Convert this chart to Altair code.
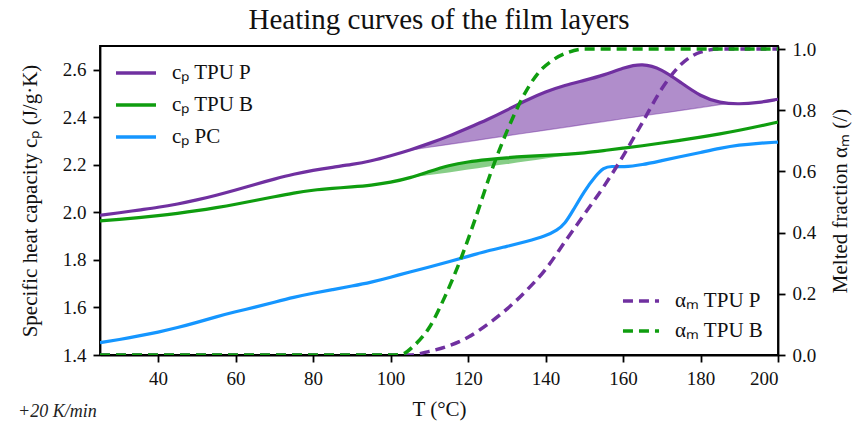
import altair as alt
import pandas as pd

# ---------------- data ----------------
cp_names = ["cₚ TPU P", "cₚ TPU B", "cₚ PC"]
cp_colors = ["#7030a0", "#0f9d0f", "#1596ff"]
alpha_names = ["αₘ TPU P", "αₘ TPU B"]
alpha_colors = ["#7030a0", "#0f9d0f"]

T_main = [25, 30, 35, 40, 45, 50, 55, 60, 65, 70, 75, 80, 85, 90, 95, 100,
          105, 110, 115, 120, 125, 130, 135, 140, 145, 150, 155, 160, 165,
          170, 175, 180, 185, 190, 195, 200]
cp_tpu_p = [1.988, 1.998, 2.010, 2.021, 2.035, 2.052, 2.072, 2.094, 2.118, 2.140,
            2.161, 2.177, 2.190, 2.201, 2.216, 2.238, 2.262, 2.290, 2.320, 2.355,
            2.390, 2.430, 2.472, 2.508, 2.535, 2.555, 2.577, 2.608, 2.628, 2.603,
            2.545, 2.488, 2.460, 2.455, 2.462, 2.476]
cp_tpu_b = [1.964, 1.970, 1.978, 1.986, 1.996, 2.007, 2.020, 2.034, 2.050, 2.066,
            2.082, 2.094, 2.101, 2.107, 2.114, 2.126, 2.145, 2.172, 2.198, 2.213,
            2.222, 2.230, 2.236, 2.240, 2.244, 2.250, 2.260, 2.270, 2.280, 2.292,
            2.304, 2.316, 2.330, 2.345, 2.362, 2.380]

T_pc = [25, 30, 35, 40, 45, 50, 55, 60, 65, 70, 75, 80, 85, 90, 95, 100, 105,
        110, 115, 120, 125, 130, 135, 140, 143, 145, 147, 150, 153, 155, 157,
        160, 165, 170, 175, 180, 185, 190, 195, 200]
cp_pc = [1.452, 1.465, 1.480, 1.496, 1.515, 1.537, 1.561, 1.582, 1.601, 1.622,
         1.643, 1.660, 1.675, 1.690, 1.706, 1.727, 1.750, 1.770, 1.792, 1.815,
         1.838, 1.857, 1.877, 1.900, 1.925, 1.952, 2.005, 2.090, 2.155, 2.188,
         2.195, 2.190, 2.200, 2.218, 2.235, 2.252, 2.270, 2.284, 2.291, 2.296]

# melting peak areas (upper = curve, lower = straight baseline)
T_fill_p = [105, 110, 115, 120, 125, 130, 135, 140, 145, 150, 155, 160, 165,
            170, 175, 180, 185, 188]
upper_p = [2.262, 2.290, 2.320, 2.355, 2.390, 2.430, 2.472, 2.508, 2.535, 2.555,
           2.577, 2.608, 2.628, 2.603, 2.545, 2.488, 2.460, 2.458]
lower_p = [2.262, 2.274, 2.286, 2.298, 2.310, 2.322, 2.334, 2.346, 2.358, 2.370,
           2.382, 2.394, 2.406, 2.417, 2.429, 2.441, 2.453, 2.458]
T_fill_b = [105, 110, 115, 120, 125, 130, 135, 140, 145, 150]
upper_b = [2.145, 2.172, 2.198, 2.213, 2.222, 2.230, 2.236, 2.240, 2.244, 2.250]
lower_b = [2.145, 2.157, 2.168, 2.180, 2.192, 2.203, 2.215, 2.227, 2.238, 2.250]

T_alpha_p = [25, 105, 110, 115, 120, 125, 130, 135, 140, 145, 150, 155, 160,
             165, 170, 175, 180, 185, 200]
alpha_p = [0, 0, 0.012, 0.03, 0.058, 0.10, 0.15, 0.21, 0.28, 0.37, 0.46, 0.55,
           0.65, 0.76, 0.87, 0.95, 0.99, 1.0, 1.0]
T_alpha_b = [25, 100, 103, 106, 110, 114, 118, 122, 126, 130, 134, 138, 142,
             146, 150, 200]
alpha_b = [0, 0, 0.003, 0.03, 0.09, 0.19, 0.31, 0.45, 0.60, 0.73, 0.84, 0.92,
           0.965, 0.99, 1.0, 1.0]

x_ticks = [40, 60, 80, 100, 120, 140, 160, 180, 200]
y_left_ticks = [1.4, 1.6, 1.8, 2.0, 2.2, 2.4, 2.6]
y_right_ticks = [0.0, 0.2, 0.4, 0.6, 0.8, 1.0]

# ---------------- tables ----------------
cp_df = pd.concat([
    pd.DataFrame({"T": T_main, "v": cp_tpu_p, "series": cp_names[0], "o": 0}),
    pd.DataFrame({"T": T_main, "v": cp_tpu_b, "series": cp_names[1], "o": 1}),
    pd.DataFrame({"T": T_pc, "v": cp_pc, "series": cp_names[2], "o": 2}),
])
alpha_df = pd.concat([
    pd.DataFrame({"T": T_alpha_p, "a": alpha_p, "series": alpha_names[0]}),
    pd.DataFrame({"T": T_alpha_b, "a": alpha_b, "series": alpha_names[1]}),
])
fill_p = pd.DataFrame({"T": T_fill_p, "v": upper_p, "base": lower_p})
fill_b = pd.DataFrame({"T": T_fill_b, "v": upper_b, "base": lower_b})

FONT = "Liberation Serif"

x_enc = alt.X("T:Q", scale=alt.Scale(domain=[25, 200], nice=False, zero=False),
              axis=alt.Axis(values=x_ticks, title="T (°C)", format="d"))
y_left_scale = alt.Scale(domain=[1.4, 2.7], nice=False, zero=False)
y_left_axis = alt.Axis(values=y_left_ticks, format=".1f",
                       title="Specific heat capacity cₚ (J/g·K)", titlePadding=22)

def yleft(field):
    return alt.Y(field, scale=y_left_scale, axis=y_left_axis)

area_p = alt.Chart(fill_p).mark_area(color="#7030a0", opacity=0.55,
                                     interpolate="basis", clip=True).encode(
    x=x_enc, y=yleft("v:Q"), y2="base:Q")
edge_p = alt.Chart(fill_p).mark_line(color="#7030a0", opacity=0.45, strokeWidth=1.2,
                                     clip=True).encode(x=x_enc, y=yleft("base:Q"))
area_b = alt.Chart(fill_b).mark_area(color="#0f9d0f", opacity=0.5,
                                     interpolate="basis", clip=True).encode(
    x=x_enc, y=yleft("v:Q"), y2="base:Q")

cp_lines = alt.Chart(cp_df).mark_line(strokeWidth=3.2, interpolate="basis",
                                      clip=True).encode(
    x=x_enc, y=yleft("v:Q"),
    color=alt.Color("series:N",
                    scale=alt.Scale(domain=cp_names, range=cp_colors),
                    sort=cp_names,
                    legend=alt.Legend(orient="none", legendX=14, legendY=5,
                                      title=None,
                                      symbolType="stroke", symbolStrokeWidth=3.5,
                                      symbolSize=1600, labelFont=FONT,
                                      labelFontSize=21, labelColor="#111",
                                      rowPadding=-19, labelOffset=14,
                                      padding=0)),
    order="o:Q")

note = alt.Chart(pd.DataFrame({"t": ["+20 K/min"]})).mark_text(
    font=FONT, fontSize=18, fontStyle="italic", align="left", baseline="middle",
    color="#222").encode(text="t:N", x=alt.value(-82), y=alt.value(366))

left = alt.layer(area_p, edge_p, area_b, cp_lines, note)

alpha_lines = alt.Chart(alpha_df).mark_line(strokeWidth=3.5, strokeDash=[10, 6],
                                            interpolate="monotone", clip=True).encode(
    x=x_enc,
    y=alt.Y("a:Q", scale=alt.Scale(domain=[0, 1.01], nice=False),
            axis=alt.Axis(orient="right", values=y_right_ticks, format=".1f",
                          title="Melted fraction αₘ (/)", titleAngle=270,
                          titleBaseline="top", titlePadding=14)),
    color=alt.Color("series:N",
                    scale=alt.Scale(domain=alpha_names, range=alpha_colors),
                    sort=alpha_names,
                    legend=alt.Legend(orient="bottom-right", title=None,
                                      symbolType="stroke", symbolStrokeWidth=3.5,
                                      symbolSize=1300, symbolDash=[10, 6],
                                      labelFont=FONT, labelFontSize=21,
                                      labelColor="#111", rowPadding=-13,
                                      offset=14, labelOffset=14, padding=0)))

chart = alt.layer(left, alpha_lines).resolve_scale(
    y="independent", color="independent"
).properties(
    width=678, height=309,
    title=alt.TitleParams("Heating curves of the film layers", font=FONT,
                          fontSize=29, fontWeight="normal", anchor="middle",
                          color="#111", offset=5),
    autosize=alt.AutoSizeParams(type="none"),
    padding={"left": 100, "top": 46, "right": 74, "bottom": 68},
).configure_view(
    stroke="black", strokeWidth=1.8
).configure_axis(
    grid=False, domainColor="black", domainWidth=1.8, tickColor="black",
    tickWidth=1.8, tickSize=7, labelFont=FONT, labelFontSize=19,
    labelColor="#111", labelPadding=7, titleFont=FONT, titleFontSize=21,
    titleFontWeight="normal", titleColor="#111"
).configure_axisX(titlePadding=10)

chart.save("out.html", embed_options={"renderer": "svg", "actions": False})
